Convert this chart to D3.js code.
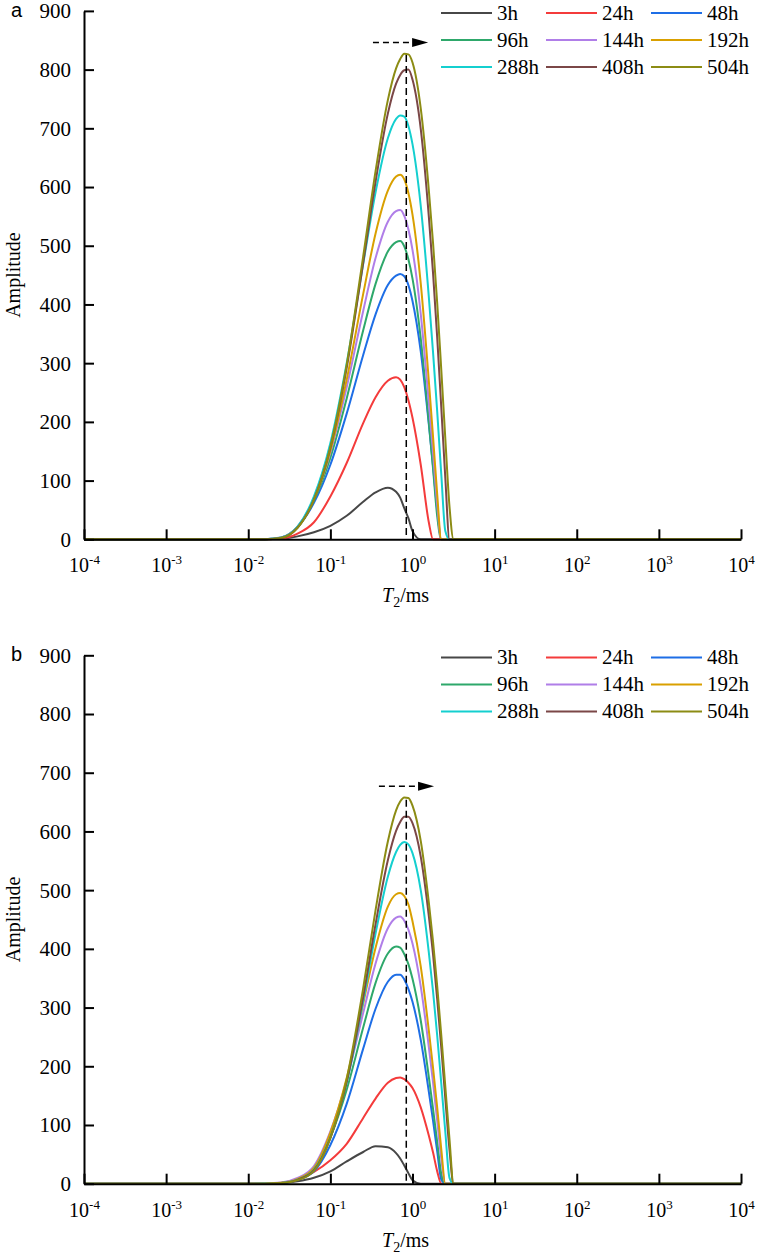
<!DOCTYPE html>
<html>
<head>
<meta charset="utf-8">
<script src="https://cdn.jsdelivr.net/npm/d3@7"></script>
<style>
  body { margin: 0; background: #fff; }
</style>
</head>
<body>
<div id="chart"></div>
<script>
// T2 grid (ms) shared by every curve
const t2 = [0.0001, 0.01, 0.0158, 0.0251, 0.0398, 0.0631, 0.1, 0.158, 0.251, 0.355, 0.501,
  0.631, 0.708, 0.794, 0.891, 1, 1.26, 1.58, 1.78, 2.0, 2.24, 2.51, 2.82, 3.16, 10000];

const seriesNames = ["3h", "24h", "48h", "96h", "144h", "192h", "288h", "408h", "504h"];

// panel a amplitudes
const a3h   = [0, 0, 0, 0.8, 5, 12, 23, 40, 64, 80, 88, 81, 71, 53, 36, 14, 0, 0, 0, 0, 0, 0, 0, 0, 0];
const a24h  = [0, 0, 0.1, 1.2, 9.6, 29, 73, 130, 198, 242, 270, 276, 272, 259, 237, 207, 127, 29, 0, 0, 0, 0, 0, 0, 0];
const a48h  = [0, 0, 0.2, 2.9, 21, 62, 127, 214, 314, 383, 433, 449, 452, 448, 433, 406, 320, 196, 124, 50, 0, 0, 0, 0, 0];
const a96h  = [0, 0, 0.2, 2.8, 21, 66, 139, 240, 356, 435, 490, 506, 508, 499, 477, 444, 342, 200, 120, 39, 0, 0, 0, 0, 0];
const a144h = [0, 0, 0.2, 2.8, 21.6, 69, 148, 259, 389, 479, 541, 559, 561, 551, 528, 493, 384, 233, 147, 59, 0, 0, 0, 0, 0];
const a192h = [0, 0, 0.15, 2.6, 20.6, 68, 151, 272, 418, 521, 594, 618, 621, 613, 590, 553, 436, 270, 174, 76, 0, 0, 0, 0, 0];
const a288h = [0, 0, 0.15, 2.6, 21.4, 73, 164, 300, 469, 591, 683, 716, 722, 720, 704, 673, 568, 413, 318, 217, 111, 14, 0, 0, 0];
const a408h = [0, 0, 0.14, 2.4, 19.7, 68, 156, 292, 471, 609, 725, 776, 791, 799, 800, 783, 699, 550, 453, 343, 225, 104, 0, 0, 0];
const a504h = [0, 0, 0.13, 2.3, 19.3, 67.6, 157, 297, 482, 627, 748, 802, 818, 827, 826, 812, 734, 595, 504, 402, 289, 171, 56, 0, 0];

// panel b amplitudes
const b3h   = [0, 0, 0, 1, 4, 10, 21, 38, 54, 64, 62, 52, 43, 31, 18, 6, 0, 0, 0, 0, 0, 0, 0, 0, 0];
const b24h  = [0, 0, 0, 1, 7, 20, 40, 68, 112, 145, 172, 180, 181, 178, 172, 163, 130, 82, 53, 21, 0, 0, 0, 0, 0];
const b48h  = [0, 0, 0.15, 1.1, 6.5, 21, 66, 136, 230, 298, 344, 356, 356, 348, 332, 310, 245, 157, 107, 55, 7, 0, 0, 0, 0];
const b96h  = [0, 0, 0.2, 1.4, 8, 26, 79, 160, 266, 342, 392, 404, 402, 391, 374, 349, 278, 182, 127, 71, 17, 0, 0, 0, 0];
const b144h = [0, 0, 0.3, 1.9, 9.7, 30, 89, 176, 291, 375, 435, 453, 455, 448, 433, 409, 336, 233, 172, 107, 43, 0, 0, 0, 0];
const b192h = [0, 0, 0.2, 1.5, 8.3, 27, 87, 180, 307, 402, 472, 493, 495, 490, 476, 447, 370, 261, 197, 129, 59, 0, 0, 0, 0];
const b288h = [0, 0, 0.15, 1.2, 6.9, 24, 79, 172, 311, 426, 523, 565, 577, 582, 578, 563, 500, 394, 327, 252, 171, 88, 10, 0, 0];
const b408h = [0, 0, 0.1, 1.1, 6.6, 23, 78, 173, 318, 442, 551, 601, 616, 625, 625, 614, 557, 456, 390, 314, 232, 145, 58, 0, 0];
const b504h = [0, 0, 0.1, 1, 6, 22, 78, 178, 333, 466, 583, 636, 651, 658, 657, 644, 584, 479, 412, 336, 253, 165, 76, 0, 0];

const yTicks = [0, 100, 200, 300, 400, 500, 600, 700, 800, 900];
const xTicks = [1e-4, 1e-3, 1e-2, 1e-1, 1, 10, 100, 1000, 10000];
const xTickExp = ["-4", "-3", "-2", "-1", "0", "1", "2", "3", "4"];

// peak-shift annotation: dashed marker at T2 and arrow [from, to] (ms), heights (amplitude)
const markerT2 = 0.84;
const arrowA = [0.33, 1.55], arrowAmpA = 846, markerTopA = 825;
const arrowB = [0.39, 1.83], arrowAmpB = 677, markerTopB = 654;

const colors = ["#474747", "#f43b3b", "#1e6ee6", "#2ea86b", "#b07ee8", "#d9a000", "#14cfcf", "#7b4747", "#8c8c14"];

const serif = "'Liberation Serif', 'Times New Roman', serif";

const svg = d3.select("#chart")
  .append("svg")
  .attr("width", 758)
  .attr("height", 1259);

const x = d3.scaleLog()
  .domain([1e-4, 1e4])
  .range([84, 741]);

function drawPanel(top, letter, amps, arrow, arrowAmp, markerTop) {
  const y = d3.scaleLinear()
    .domain([0, 900])
    .range([top + 528.4, top]);
  const g = svg.append("g");

  // curves
  const line = d3.line()
    .x((d, i) => x(t2[i]))
    .y(d => y(d))
    .curve(d3.curveMonotoneX);
  amps.forEach((vals, k) => {
    g.append("path")
      .datum(vals)
      .attr("d", line)
      .attr("fill", "none")
      .attr("stroke", colors[k])
      .attr("stroke-width", 2);
  });

  // dashed marker + arrow
  g.append("line")
    .attr("x1", x(markerT2)).attr("x2", x(markerT2))
    .attr("y1", y(markerTop)).attr("y2", y(0))
    .attr("stroke", "#000").attr("stroke-width", 1.5)
    .attr("stroke-dasharray", "7,4");
  const ay = y(arrowAmp), tip = x(arrow[1]);
  g.append("line")
    .attr("x1", x(arrow[0])).attr("x2", tip - 15)
    .attr("y1", ay).attr("y2", ay)
    .attr("stroke", "#000").attr("stroke-width", 1.5)
    .attr("stroke-dasharray", "6,4");
  g.append("path")
    .attr("d", `M${tip},${ay}L${tip - 16},${ay - 4.5}L${tip - 16},${ay + 4.5}Z`)
    .attr("fill", "#000");

  // y axis
  const gy = g.append("g")
    .attr("transform", "translate(84,0)")
    .call(d3.axisLeft(y).tickValues(yTicks).tickSize(-10).tickSizeOuter(0).tickPadding(13));
  gy.selectAll("path, line").attr("stroke", "#000").attr("stroke-width", 2);
  gy.selectAll("text")
    .attr("dy", "0.33em")
    .attr("fill", "#000")
    .style("font-family", serif)
    .style("font-size", "21px");

  // x axis
  const gx = g.append("g")
    .attr("transform", `translate(0,${y(0)})`)
    .call(d3.axisBottom(x).tickValues(xTicks).tickSize(-10).tickSizeOuter(0).tickFormat(""));
  gx.selectAll("path, line").attr("stroke", "#000").attr("stroke-width", 2);
  gx.selectAll(".tick text").remove();
  gx.selectAll(".tick").append("text")
    .attr("y", 33)
    .attr("text-anchor", "middle")
    .attr("fill", "#000")
    .style("font-family", serif)
    .style("font-size", "20px")
    .each(function(d, i) {
      const t = d3.select(this);
      t.append("tspan").text("10");
      t.append("tspan").attr("dy", -8).style("font-size", "13px").text(xTickExp[i]);
    });

  // axis titles
  const xt = g.append("text")
    .attr("x", 382).attr("y", y(0) + 63)
    .style("font-family", serif).style("font-size", "20px");
  xt.append("tspan").style("font-style", "italic").text("T");
  xt.append("tspan").attr("dy", 5).style("font-size", "14px").text("2");
  xt.append("tspan").attr("dy", -5).text("/ms");

  g.append("text")
    .attr("transform", `translate(20,${(y(0) + y(900)) / 2}) rotate(-90)`)
    .attr("text-anchor", "middle")
    .style("font-family", serif).style("font-size", "20px")
    .text("Amplitude");

  g.append("text")
    .attr("x", 11).attr("y", top + 6)
    .style("font-family", "'Liberation Sans', Arial, sans-serif")
    .style("font-size", "20px")
    .text(letter);

  // legend, 3 x 3
  const colX = [441, 546, 651];
  seriesNames.forEach((name, k) => {
    const lx = colX[k % 3], ly = top + 2.1 + Math.floor(k / 3) * 27;
    g.append("line")
      .attr("x1", lx).attr("x2", lx + 51)
      .attr("y1", ly).attr("y2", ly)
      .attr("stroke", colors[k]).attr("stroke-width", 2);
    g.append("text")
      .attr("x", lx + 56).attr("y", ly + 7)
      .style("font-family", serif).style("font-size", "21px")
      .text(name);
  });
}

drawPanel(10.9, "a", [a3h, a24h, a48h, a96h, a144h, a192h, a288h, a408h, a504h], arrowA, arrowAmpA, markerTopA);
drawPanel(655.3, "b", [b3h, b24h, b48h, b96h, b144h, b192h, b288h, b408h, b504h], arrowB, arrowAmpB, markerTopB);
</script>
</body>
</html>
